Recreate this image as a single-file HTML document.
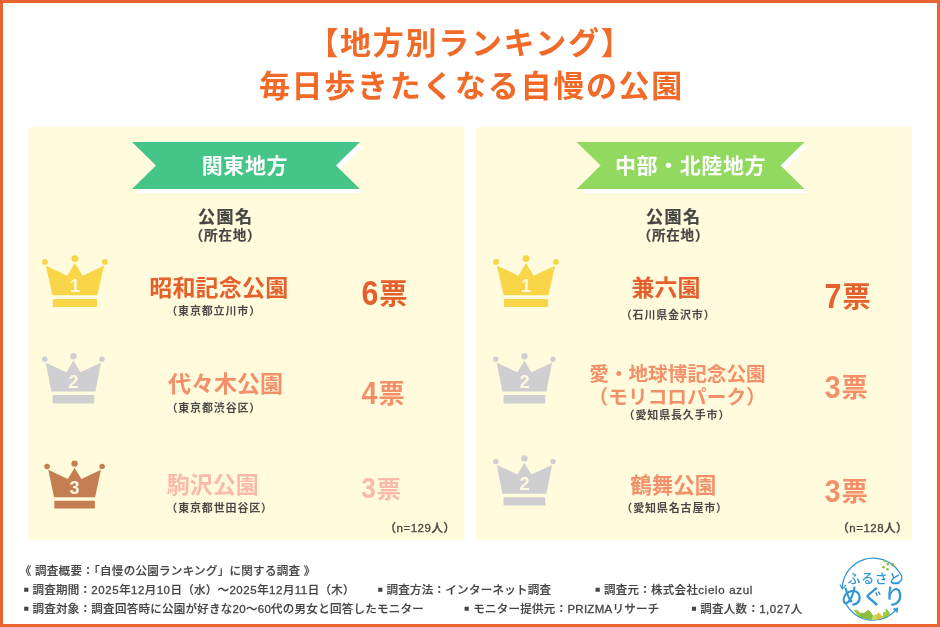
<!DOCTYPE html>
<html lang="ja">
<head>
<meta charset="utf-8">
<title>地方別ランキング 毎日歩きたくなる自慢の公園</title>
<style>
*{margin:0;padding:0;box-sizing:border-box}
html,body{width:940px;height:627px;overflow:hidden;background:#fff}
body{font-family:"Liberation Sans","Noto Sans CJK JP",sans-serif;position:relative;color:#444}
.frame{position:absolute;left:0;top:0;width:940px;height:627px;border:3px solid #e8632f}
.abs{position:absolute;white-space:nowrap;line-height:1}
.title{color:#f16a27;font-weight:700}
.panel{position:absolute;top:127px;width:436px;height:413px;background:#fffbdc}
.rib{position:absolute;top:142px}
.ribt{color:#fff;font-weight:700}
.hd{font-weight:700;color:#464544;-webkit-text-stroke:.2px #464544}
.hs{font-weight:700;color:#464544;-webkit-text-stroke:.2px #464544}
.nm{font-weight:700}
.sub{font-weight:700;color:#4c4a48}
.vt{font-weight:700}
.c1{color:#e4602c}.c2{color:#f3906a}.c3{color:#f9baaa}
.n{font-weight:500;color:#484644;-webkit-text-stroke:.3px #484644}
.ft{font-weight:500;color:#444;-webkit-text-stroke:.15px #444}
.sq{font-size:8.3px;letter-spacing:0;margin-right:4.1px;vertical-align:1.75px}
.d{display:inline-block;font-size:1.08em;line-height:1;transform:scaleY(1.13);transform-origin:50% 70%}
.sp{letter-spacing:.3px}
.g{letter-spacing:.55px;-webkit-text-stroke:.3px #444}
.g2{letter-spacing:.7px;-webkit-text-stroke:.3px #444}
.g3{-webkit-text-stroke:.3px #444}
.crown{position:absolute}
</style>
</head>
<body>
<div class="frame"></div>
<div class="panel" style="left:28px"></div>
<div class="panel" style="left:476px"></div>
<svg class="rib" style="left:132px" width="233" height="51" viewBox="0.00 0 233 51"><polygon points="4,4 232,4 208,27.5 232,51 4,51 28,27.5" fill="#fff" style="filter:blur(.5px)"/><polygon points="0,0 228,0 204,23.5 228,47 0,47 24,23.5" fill="#45c587"/></svg>
<svg class="rib" style="left:576px" width="233" height="51" viewBox="-0.60 0 233 51"><polygon points="4,4 232,4 208,27.5 232,51 4,51 28,27.5" fill="#fff" style="filter:blur(.5px)"/><polygon points="0,0 228,0 204,23.5 228,47 0,47 24,23.5" fill="#92d95f"/></svg>
<svg class="crown" style="left:38px;top:253px" width="72" height="58" viewBox="0 0 72 58"><g fill="#f8d648"><circle cx="36.90" cy="5.60" r="3.4"/><circle cx="7.00" cy="8.90" r="2.9"/><circle cx="66.80" cy="8.90" r="2.9"/><polygon points="7.80,12.70 29.30,22.70 36.90,10.10 44.50,22.70 66.00,12.70 59.30,42.30 14.50,42.30"/><rect x="14.80" y="46.00" width="44.20" height="8.00" rx="0.8"/></g><text x="36.90" y="38.50" text-anchor="middle" font-family="'Liberation Sans',sans-serif" font-weight="700" font-size="18" fill="#fff8dc">1</text></svg>
<svg class="crown" style="left:37px;top:351px" width="72" height="58" viewBox="0 0 72 58"><g fill="#cfcfd1"><circle cx="36.40" cy="5.20" r="3.2"/><circle cx="7.80" cy="8.20" r="2.7"/><circle cx="65.00" cy="8.20" r="2.7"/><polygon points="8.75,11.80 29.40,21.20 36.40,9.60 43.40,21.20 64.05,11.80 58.40,40.60 14.40,40.60"/><rect x="15.50" y="44.00" width="41.80" height="8.40" rx="0.8"/></g><text x="36.40" y="36.50" text-anchor="middle" font-family="'Liberation Sans',sans-serif" font-weight="700" font-size="18" fill="#fff8dc">2</text></svg>
<svg class="crown" style="left:38px;top:458px" width="72" height="58" viewBox="0 0 72 58"><g fill="#c47e52"><circle cx="36.60" cy="5.60" r="3.2"/><circle cx="9.10" cy="8.50" r="2.8"/><circle cx="64.10" cy="8.50" r="2.8"/><polygon points="10.25,11.70 29.80,20.90 36.60,9.80 43.40,20.90 62.95,11.70 57.10,39.30 16.10,39.30"/><rect x="16.30" y="42.80" width="40.60" height="7.70" rx="0.8"/></g><text x="36.60" y="35.50" text-anchor="middle" font-family="'Liberation Sans',sans-serif" font-weight="700" font-size="18" fill="#fff8dc">3</text></svg>
<svg class="crown" style="left:490px;top:253px" width="72" height="58" viewBox="0 0 72 58"><g fill="#f8d648"><circle cx="36.00" cy="5.60" r="3.4"/><circle cx="6.10" cy="8.90" r="2.9"/><circle cx="65.90" cy="8.90" r="2.9"/><polygon points="6.90,12.70 28.40,22.70 36.00,10.10 43.60,22.70 65.10,12.70 58.40,42.30 13.60,42.30"/><rect x="13.90" y="46.00" width="44.20" height="8.00" rx="0.8"/></g><text x="36.00" y="38.50" text-anchor="middle" font-family="'Liberation Sans',sans-serif" font-weight="700" font-size="18" fill="#fff8dc">1</text></svg>
<svg class="crown" style="left:488px;top:351px" width="72" height="58" viewBox="0 0 72 58"><g fill="#cfcfd1"><circle cx="36.40" cy="5.20" r="3.2"/><circle cx="7.80" cy="8.20" r="2.7"/><circle cx="65.00" cy="8.20" r="2.7"/><polygon points="8.75,11.80 29.40,21.20 36.40,9.60 43.40,21.20 64.05,11.80 58.40,40.60 14.40,40.60"/><rect x="15.50" y="44.00" width="41.80" height="8.40" rx="0.8"/></g><text x="36.40" y="36.50" text-anchor="middle" font-family="'Liberation Sans',sans-serif" font-weight="700" font-size="18" fill="#fff8dc">2</text></svg>
<svg class="crown" style="left:488px;top:453px" width="72" height="58" viewBox="0 0 72 58"><g fill="#cfcfd1"><circle cx="36.40" cy="5.40" r="3.2"/><circle cx="7.80" cy="8.40" r="2.7"/><circle cx="65.00" cy="8.40" r="2.7"/><polygon points="8.75,12.00 29.40,21.40 36.40,9.80 43.40,21.40 64.05,12.00 58.40,40.80 14.40,40.80"/><rect x="15.50" y="44.20" width="41.80" height="8.40" rx="0.8"/></g><text x="36.40" y="36.70" text-anchor="middle" font-family="'Liberation Sans',sans-serif" font-weight="700" font-size="18" fill="#fff8dc">2</text></svg>
<div id="t1" class="abs title" style="left:307.40px;top:28.00px;font-size:31px;letter-spacing:1.7px">【地方別ランキング】</div>
<div id="t2" class="abs title" style="left:258.90px;top:71.00px;font-size:31px;letter-spacing:1.7px">毎日歩きたくなる自慢の公園</div>
<div id="r1" class="abs ribt" style="left:201.70px;top:155.00px;font-size:21px;letter-spacing:0.6px">関東地方</div>
<div id="r2" class="abs ribt" style="left:614.90px;top:155.00px;font-size:21px;letter-spacing:0.6px">中部・北陸地方</div>
<div id="h1" class="abs hd" style="left:197.90px;top:209.00px;font-size:17px;letter-spacing:1.5px">公園名</div>
<div id="h1s" class="abs hs" style="left:189.80px;top:229.00px;font-size:13.5px;letter-spacing:0.8px">（所在地）</div>
<div id="h2" class="abs hd" style="left:646.00px;top:209.00px;font-size:17px;letter-spacing:1.5px">公園名</div>
<div id="h2s" class="abs hs" style="left:637.70px;top:229.00px;font-size:13.5px;letter-spacing:0.8px">（所在地）</div>
<div id="ln1" class="abs nm c1" style="left:149.20px;top:277.00px;font-size:23px;letter-spacing:0.2px">昭和記念公園</div>
<div id="ls1" class="abs sub" style="left:166.20px;top:306.00px;font-size:11px;letter-spacing:0.85px">（東京都立川市）</div>
<div id="lv1" class="abs vt c1" style="left:361.40px;top:278.00px;font-size:28.2px;letter-spacing:1px"><span class="d">6</span>票</div>
<div id="ln2" class="abs nm c2" style="left:168.00px;top:373.00px;font-size:23px;letter-spacing:0px">代々木公園</div>
<div id="ls2" class="abs sub" style="left:166.40px;top:403.00px;font-size:11px;letter-spacing:0.85px">（東京都渋谷区）</div>
<div id="lv2" class="abs vt c2" style="left:361.60px;top:379.00px;font-size:26.3px;letter-spacing:1px"><span class="d">4</span>票</div>
<div id="ln3" class="abs nm c3" style="left:166.80px;top:474.00px;font-size:23px;letter-spacing:0px">駒沢公園</div>
<div id="ls3" class="abs sub" style="left:166.30px;top:503.00px;font-size:11px;letter-spacing:0.85px">（東京都世田谷区）</div>
<div id="lv3" class="abs vt c3" style="left:361.20px;top:476.00px;font-size:24.2px;letter-spacing:1px"><span class="d">3</span>票</div>
<div id="ln" class="abs n" style="left:384.60px;top:523.00px;font-size:11.5px;letter-spacing:0.5px">（n=129人）</div>
<div id="rn1" class="abs nm c1" style="left:631.60px;top:277.00px;font-size:23px;letter-spacing:0px">兼六園</div>
<div id="rs1" class="abs sub" style="left:620.70px;top:310.00px;font-size:11px;letter-spacing:0.85px">（石川県金沢市）</div>
<div id="rv1" class="abs vt c1" style="left:824.60px;top:281.00px;font-size:28.2px;letter-spacing:1px"><span class="d">7</span>票</div>
<div id="rn2a" class="abs nm c2" style="left:589.30px;top:365.00px;font-size:19.6px;letter-spacing:0px">愛・地球博記念公園</div>
<div id="rn2b" class="abs nm c2" style="left:588.60px;top:388.00px;font-size:19.6px;letter-spacing:0.1px">（モリコロパーク）</div>
<div id="rs2" class="abs sub" style="left:623.60px;top:410.00px;font-size:11px;letter-spacing:0.85px">（愛知県長久手市）</div>
<div id="rv2" class="abs vt c2" style="left:824.70px;top:373.00px;font-size:26.3px;letter-spacing:1px"><span class="d">3</span>票</div>
<div id="rn3" class="abs nm c2" style="left:630.30px;top:476.00px;font-size:21.5px;letter-spacing:0px">鶴舞公園</div>
<div id="rs3" class="abs sub" style="left:621.30px;top:503.00px;font-size:11px;letter-spacing:0.85px">（愛知県名古屋市）</div>
<div id="rv3" class="abs vt c2" style="left:824.70px;top:477.00px;font-size:26.3px;letter-spacing:1px"><span class="d">3</span>票</div>
<div id="rn" class="abs n" style="left:837.30px;top:523.00px;font-size:11.5px;letter-spacing:0.5px">（n=128人）</div>
<div id="f1" class="abs ft" style="left:19.70px;top:566.00px;font-size:11.5px;letter-spacing:0.3px">《<span class="sp"> </span>調査概要：「自慢の公園ランキング」に関する調査<span class="sp"> </span>》</div>
<div id="f2" class="abs ft" style="left:23.40px;top:585.00px;font-size:11.5px;letter-spacing:0.27px"><span class="sq">■</span>調査期間：<span class="g">2025</span>年<span class="g">12</span>月<span class="g">10</span>日（水）～<span class="g">2025</span>年<span class="g">12</span>月<span class="g">11</span>日（木）</div>
<div id="f3" class="abs ft" style="left:377.40px;top:585.00px;font-size:11.5px;letter-spacing:0.27px"><span class="sq">■</span>調査方法：インターネット調査</div>
<div id="f4" class="abs ft" style="left:594.90px;top:585.00px;font-size:11.5px;letter-spacing:0.27px"><span class="sq">■</span>調査元：株式会社<span class="g2">cielo azul</span></div>
<div id="f5" class="abs ft" style="left:23.40px;top:604.00px;font-size:11.5px;letter-spacing:0.27px"><span class="sq">■</span>調査対象：調査回答時に公園が好きな<span class="g3">20</span>～<span class="g3">60</span>代の男女と回答したモニター</div>
<div id="f6" class="abs ft" style="left:464.10px;top:604.00px;font-size:11.5px;letter-spacing:0.27px"><span class="sq">■</span>モニター提供元：<span class="g3">PRIZMA</span>リサーチ</div>
<div id="f7" class="abs ft" style="left:691.20px;top:604.00px;font-size:11.5px;letter-spacing:0.27px"><span class="sq">■</span>調査人数：<span class="g">1,027</span>人</div>
<svg class="logo" style="position:absolute;left:825px;top:550px" width="100" height="74" viewBox="825 550 100 74"><path d="M891.0,582.0 C893.0,583.3 896.0,583.6 898.6,582.4 C902.6,580.6 903.4,576.6 898.32,570.90 A31.05,31.05 0 0 0 842.15,588.61" fill="none" stroke="#2f96d6" stroke-width="1.25" stroke-linecap="round"/><path d="M840.15,585.21 L842.65,588.81 L845.75,585.21" fill="none" stroke="#2f96d6" stroke-width="1.25" stroke-linecap="round" stroke-linejoin="round"/><path d="M845.78,603.73 A31.05,31.05 0 0 0 897.33,608.69" fill="none" stroke="#2f96d6" stroke-width="1.25" stroke-linecap="round"/><path d="M892.93,609.09 L897.63,607.79 L897.53,612.69 Z" fill="#2f96d6" stroke="#2f96d6" stroke-width="0.6" stroke-linejoin="round"/><circle cx="884.70" cy="561.09" r="1.21" fill="#8cc63f"/><circle cx="887.73" cy="564.12" r="1.33" fill="#86bf3c"/><circle cx="892.58" cy="564.73" r="1.70" fill="#7fb83a"/><circle cx="883.48" cy="567.15" r="1.33" fill="#8cc63f"/><circle cx="887.42" cy="569.27" r="1.33" fill="#86bf3c"/><clipPath id="lg"><circle cx="873.20" cy="589.15" r="30.75"/></clipPath><g clip-path="url(#lg)"><polygon points="854.09,610.45 856.21,609.42 858.33,610.76 861.06,613.48 864.09,616.52 858.03,616.52" fill="#a3c93a"/><polygon points="859.24,616.52 861.67,612.58 863.48,613.48 868.03,609.97 870.76,612.27 874.39,617.73 877.42,621.36 862.27,621.36" fill="#85b93c"/><polygon points="871.36,618.94 875.00,615.30 878.64,618.94 877.42,621.36 871.36,621.36" fill="#c3d96a"/><polygon points="875.00,617.73 878.52,612.39 882.88,617.12 883.48,621.36 873.79,621.36" fill="#e3c23a"/><polygon points="862.58,616.52 866.21,611.67 868.33,609.85 870.45,612.27 873.48,616.52 871.06,619.55 862.58,620.15" fill="#8dbd3c"/><polygon points="875.30,616.52 878.45,612.39 881.97,616.52 880.76,618.94 875.30,619.55" fill="#e3c23a"/><polygon points="872.27,616.52 875.30,614.09 877.12,616.52 875.91,619.55 872.27,619.85" fill="#c3d96a"/><ellipse cx="884.70" cy="614.09" rx="1.9" ry="2.4" fill="#a3c93a"/><polygon points="885.00,609.24 886.82,608.94 889.24,612.27 889.85,614.70 887.42,615.30" fill="#8cc63f"/><polygon points="881.97,616.52 885.00,613.48 890.45,614.09 889.24,616.52 883.18,618.03" fill="#9acb3c"/></g><text id="lt1" x="847.6" y="583.4" font-family="'Liberation Sans','Noto Sans CJK JP',sans-serif" font-weight="500" font-size="13" letter-spacing="0.6" fill="#2f96d6">ふるさと</text><text id="lt2" x="840.9" y="603.5" font-family="'Liberation Sans','Noto Sans CJK JP',sans-serif" font-weight="500" font-size="21.5" letter-spacing="0" fill="#2f96d6">めぐり</text></svg>
</body>
</html>
